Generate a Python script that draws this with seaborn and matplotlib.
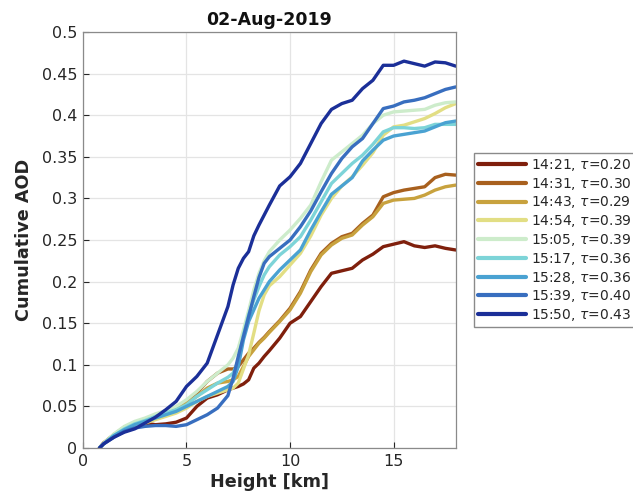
import matplotlib
matplotlib.use("Agg")
import matplotlib.pyplot as plt
import numpy as np
import pandas as pd
import seaborn as sns

# Height grid [km] shared by all profiles
heights = [0.8, 1.0, 1.5, 2.0, 2.5, 3.0, 3.5, 4.0, 4.5, 5.0,
           5.5, 6.0, 6.5, 7.0, 7.25, 7.5, 7.75, 8.0, 8.25, 8.5,
           8.75, 9.0, 9.5, 10.0, 10.5, 11.0, 11.5, 12.0, 12.5, 13.0,
           13.5, 14.0, 14.5, 15.0, 15.5, 16.0, 16.5, 17.0, 17.5, 18.0]

# Measurement times and total optical depth
times = ["14:21", "14:31", "14:43", "14:54", "15:05", "15:17", "15:28", "15:39", "15:50"]
taus = [0.20, 0.30, 0.29, 0.39, 0.39, 0.36, 0.36, 0.40, 0.43]

# Cumulative AOD profiles
aod_1421 = [0, 0.006, 0.016, 0.024, 0.030, 0.030, 0.028, 0.029, 0.031, 0.036,
            0.050, 0.060, 0.064, 0.070, 0.072, 0.074, 0.077, 0.082, 0.096, 0.102,
            0.110, 0.117, 0.132, 0.150, 0.158, 0.176, 0.194, 0.210, 0.213, 0.216,
            0.226, 0.233, 0.242, 0.245, 0.248, 0.243, 0.241, 0.243, 0.240, 0.238]
aod_1431 = [0, 0.006, 0.016, 0.025, 0.030, 0.034, 0.038, 0.041, 0.046, 0.056,
            0.066, 0.080, 0.090, 0.095, 0.095, 0.098, 0.106, 0.114, 0.120, 0.127,
            0.133, 0.140, 0.153, 0.168, 0.188, 0.214, 0.234, 0.246, 0.254, 0.258,
            0.270, 0.280, 0.302, 0.307, 0.310, 0.312, 0.314, 0.325, 0.329, 0.328]
aod_1443 = [0, 0.006, 0.016, 0.025, 0.030, 0.034, 0.038, 0.041, 0.046, 0.054,
            0.062, 0.072, 0.078, 0.080, 0.082, 0.086, 0.098, 0.110, 0.118, 0.126,
            0.132, 0.139, 0.152, 0.166, 0.186, 0.212, 0.232, 0.244, 0.252, 0.256,
            0.268, 0.278, 0.294, 0.298, 0.299, 0.300, 0.304, 0.310, 0.314, 0.316]
aod_1454 = [0, 0.005, 0.014, 0.021, 0.026, 0.030, 0.034, 0.038, 0.042, 0.048,
            0.056, 0.062, 0.066, 0.070, 0.072, 0.078, 0.095, 0.112, 0.138, 0.165,
            0.184, 0.195, 0.206, 0.220, 0.234, 0.255, 0.280, 0.300, 0.315, 0.326,
            0.340, 0.355, 0.376, 0.386, 0.388, 0.392, 0.396, 0.402, 0.409, 0.414]
aod_1505 = [0, 0.006, 0.017, 0.026, 0.032, 0.036, 0.041, 0.045, 0.050, 0.058,
            0.068, 0.080, 0.090, 0.100, 0.108, 0.120, 0.142, 0.165, 0.190, 0.210,
            0.225, 0.236, 0.250, 0.262, 0.276, 0.292, 0.320, 0.346, 0.356, 0.366,
            0.376, 0.390, 0.400, 0.404, 0.405, 0.406, 0.407, 0.412, 0.415, 0.416]
aod_1517 = [0, 0.005, 0.015, 0.023, 0.029, 0.033, 0.038, 0.042, 0.046, 0.052,
            0.062, 0.070, 0.078, 0.085, 0.090, 0.105, 0.136, 0.160, 0.178, 0.194,
            0.208, 0.218, 0.232, 0.242, 0.254, 0.274, 0.296, 0.318, 0.330, 0.342,
            0.352, 0.365, 0.380, 0.385, 0.385, 0.384, 0.385, 0.389, 0.389, 0.389]
aod_1528 = [0, 0.005, 0.015, 0.022, 0.028, 0.032, 0.036, 0.040, 0.044, 0.050,
            0.056, 0.062, 0.068, 0.074, 0.080, 0.098, 0.130, 0.152, 0.166, 0.180,
            0.190, 0.200, 0.214, 0.226, 0.238, 0.262, 0.284, 0.305, 0.315, 0.325,
            0.345, 0.358, 0.370, 0.375, 0.377, 0.379, 0.381, 0.386, 0.391, 0.393]
aod_1539 = [0, 0.005, 0.013, 0.020, 0.024, 0.026, 0.027, 0.027, 0.026, 0.028,
            0.034, 0.040, 0.048, 0.063, 0.084, 0.110, 0.134, 0.158, 0.182, 0.205,
            0.222, 0.230, 0.240, 0.250, 0.266, 0.285, 0.308, 0.330, 0.348, 0.362,
            0.372, 0.390, 0.408, 0.411, 0.416, 0.418, 0.421, 0.426, 0.431, 0.434]
aod_1550 = [0, 0.005, 0.013, 0.019, 0.023, 0.030, 0.037, 0.046, 0.056, 0.074,
            0.086, 0.102, 0.136, 0.170, 0.196, 0.216, 0.228, 0.236, 0.255, 0.268,
            0.280, 0.292, 0.315, 0.326, 0.342, 0.366, 0.390, 0.407, 0.414, 0.418,
            0.432, 0.442, 0.460, 0.460, 0.465, 0.462, 0.459, 0.464, 0.463, 0.459]

profiles = [aod_1421, aod_1431, aod_1443, aod_1454, aod_1505,
            aod_1517, aod_1528, aod_1539, aod_1550]

colors = ["#7f1f0c", "#a8601e", "#c8a23e", "#e2de84", "#cdeccb",
          "#7dd4d8", "#4aa2d2", "#386ebf", "#1b2f98"]

x_ticks = [0, 5, 10, 15]
y_ticks = [0, 0.05, 0.1, 0.15, 0.2, 0.25, 0.3, 0.35, 0.4, 0.45, 0.5]

labels = [f"{t}, $\\tau$={tau:.2f}" for t, tau in zip(times, taus)]
frames = []
for lab, vals in zip(labels, profiles):
    frames.append(pd.DataFrame({"height": heights, "aod": vals, "label": lab}))
df = pd.concat(frames, ignore_index=True)

sns.set_theme(style="whitegrid")
plt.rcParams["font.family"] = ["DejaVu Sans"]

fig = plt.figure(figsize=(6.33, 4.98), dpi=100)
ax = fig.add_axes([0.131, 0.1004, 0.589, 0.8353])

sns.lineplot(data=df, x="height", y="aod", hue="label", hue_order=labels,
             palette=colors, linewidth=2.4, estimator=None, sort=False, ax=ax)

ax.set_xlim(0, 18)
ax.set_ylim(0, 0.5)
ax.set_xticks(x_ticks)
ax.set_yticks(y_ticks)
ax.set_yticklabels([f"{v:g}" for v in y_ticks])
ax.set_xticklabels([f"{v:g}" for v in x_ticks])
ax.tick_params(axis="both", labelsize=11.5, colors="#262626", direction="in",
               length=4, width=0.8, pad=4, left=True, bottom=True)
ax.grid(True, color="#e4e4e4", linewidth=0.9)
ax.set_facecolor("white")
for s in ax.spines.values():
    s.set_visible(True)
    s.set_color("#8a8a8a")
    s.set_linewidth(0.9)

ax.set_xlabel("Height [km]", fontsize=12.7, fontweight="bold", color="#262626", labelpad=3)
ax.set_ylabel("Cumulative AOD", fontsize=12.7, fontweight="bold", color="#262626", labelpad=6)
ax.set_title("02-Aug-2019", fontsize=12.5, fontweight="bold", color="#111111", pad=5)

leg = ax.legend(loc="center left", bbox_to_anchor=(1.048, 0.5), fontsize=10,
                frameon=True, fancybox=False, edgecolor="#8a8a8a", framealpha=1,
                handlelength=3.5, handletextpad=0.35, borderpad=0.3,
                labelspacing=0.2, borderaxespad=0)
for line in leg.get_lines():
    line.set_linewidth(3)

fig.savefig("out.png", dpi=100, facecolor="white")
